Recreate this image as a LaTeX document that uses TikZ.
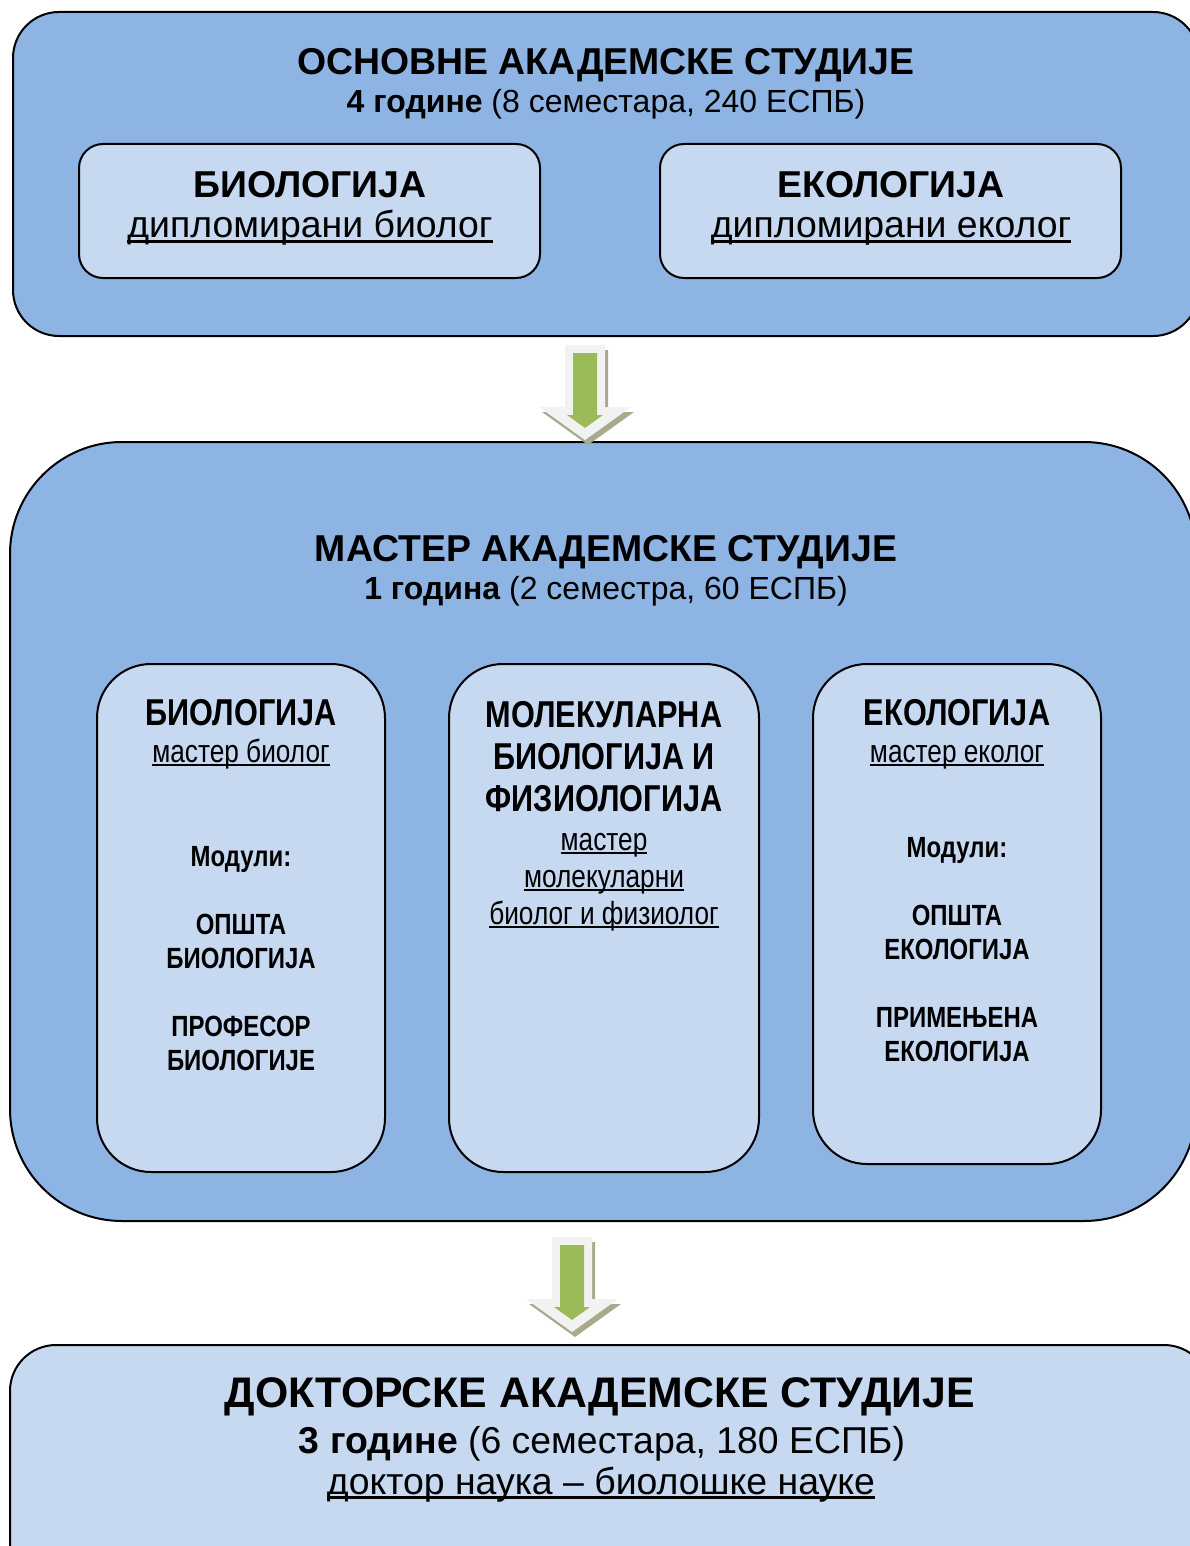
\documentclass[tikz,border=0pt]{standalone}
\usepackage{fontspec}
\setmainfont{Liberation Sans}
\newfontfamily\narrowfont[FakeStretch=0.82]{Liberation Sans}
\usetikzlibrary{positioning}

\definecolor{outerblue}{HTML}{8EB4E3}
\definecolor{innerblue}{HTML}{C6D9F1}
\definecolor{arrowgreen}{HTML}{9BBB59}
\definecolor{arrowpale}{HTML}{F2F2F2}
\definecolor{arrowshade}{HTML}{A8AA8C}

% underline that sits just under the baseline
\newcommand{\ulin}[1]{\setbox0=\hbox{#1}\rlap{\rule[-0.13em]{\wd0}{0.065em}}\box0}

\begin{document}
\begin{tikzpicture}[x=0.5pt, y=-0.5pt, line join=round,
	bigbox/.style={draw=black, line width=1pt, fill=outerblue},
	smallbox/.style={draw=black, line width=1pt, fill=innerblue},
	txt/.style={anchor=base, inner sep=0pt, align=center},
	pics/downarrow/.style={code={
		\fill[arrowshade] (-17,5) -- (23,5) -- (23,67) -- (49,67) -- (3,100) -- (-43,67) -- (-17,67) -- cycle;
		\fill[arrowpale] (-20,0) -- (20,0) -- (20,62) -- (46,62) -- (0,95) -- (-46,62) -- (-20,62) -- cycle;
		\fill[arrowgreen] (-12,8) -- (12,8) -- (12,70) -- (18,70) -- (0,83) -- (-18,70) -- (-12,70) -- cycle;
	}}]
	
	\useasboundingbox (0,0) rectangle (1189,1546);
	
	% basic studies
	\node[bigbox, rounded corners=23pt, minimum width=593pt, minimum height=162pt] (osnovne) at (606,174) {};
	\node[txt, font=\bfseries\fontsize{18.7}{21}\selectfont] (osnTitle) at (606,75) {ОСНОВНЕ АКАДЕМСКЕ СТУДИЈЕ};
	\node[txt, font=\fontsize{16}{18}\selectfont] (osnSub) at (606,113) {\textbf{4 године} (8 семестара, 240 ЕСПБ)};
	
	\node[smallbox, rounded corners=12pt, minimum width=230.5pt, minimum height=67pt] (bioB) at (309.5,211) {};
	\node[txt, font=\bfseries\fontsize{18.7}{21}\selectfont] (bioBTitle) at (310,198) {БИОЛОГИЈА};
	\node[txt, font=\fontsize{18.7}{21}\selectfont] (bioBSub) at (310,238) {\ulin{дипломирани биолог}};
	
	\node[smallbox, rounded corners=12pt, minimum width=230.5pt, minimum height=67pt] (ekoB) at (890.5,211) {};
	\node[txt, font=\bfseries\fontsize{18.7}{21}\selectfont] (ekoBTitle) at (891,198) {ЕКОЛОГИЈА};
	\node[txt, font=\fontsize{18.7}{21}\selectfont] (ekoBSub) at (891,238) {\ulin{дипломирани еколог}};
	
	% master studies
	\node[bigbox, rounded corners=56pt, minimum width=593pt, minimum height=389.5pt] (master) at (603,831.5) {};
	\node[txt, font=\bfseries\fontsize{18.7}{21}\selectfont] (masTitle) at (606,561) {МАСТЕР АКАДЕМСКЕ СТУДИЈЕ};
	\node[txt, font=\fontsize{16}{18}\selectfont] (masSub) at (606,599) {\textbf{1 година} (2 семестра, 60 ЕСПБ)};
	
	% (multi-line texts are placed by the baseline of their last line)
	\node[smallbox, rounded corners=27pt, minimum width=144pt, minimum height=254pt] (bioM) at (241,918) {};
	\node[txt, font=\narrowfont\bfseries\fontsize{18.7}{21}\selectfont] (bioMTitle) at (241,725) {БИОЛОГИЈА};
	\node[txt, font=\narrowfont\fontsize{16}{18.5}\selectfont] (bioMSub) at (241,762) {\ulin{мастер биолог}};
	\node[txt, font=\narrowfont\bfseries\fontsize{14.6}{17}\selectfont] (bioMMod) at (241,1070)
		{Модули:\\[17pt] ОПШТА\\ БИОЛОГИЈА\\[17pt] ПРОФЕСОР\\ БИОЛОГИЈЕ};
	
	\node[smallbox, rounded corners=27pt, minimum width=155pt, minimum height=254pt] (molM) at (604,918) {};
	\node[txt, font=\narrowfont\bfseries\fontsize{18.7}{21}\selectfont] (molMTitle) at (604,811)
		{МОЛЕКУЛАРНА\\ БИОЛОГИЈА И\\ ФИЗИОЛОГИЈА};
	\node[txt, font=\narrowfont\fontsize{16}{18.5}\selectfont] (molMSub) at (604,924)
		{\ulin{мастер}\\ \ulin{молекуларни}\\ \ulin{биолог и физиолог}};
	
	\node[smallbox, rounded corners=27pt, minimum width=144pt, minimum height=250pt] (ekoM) at (957,914) {};
	\node[txt, font=\narrowfont\bfseries\fontsize{18.7}{21}\selectfont] (ekoMTitle) at (957,725) {ЕКОЛОГИЈА};
	\node[txt, font=\narrowfont\fontsize{16}{18.5}\selectfont] (ekoMSub) at (957,762) {\ulin{мастер еколог}};
	\node[txt, font=\narrowfont\bfseries\fontsize{14.6}{17}\selectfont] (ekoMMod) at (957,1061)
		{Модули:\\[17pt] ОПШТА\\ ЕКОЛОГИЈА\\[17pt] ПРИМЕЊЕНА\\ ЕКОЛОГИЈА};
	
	% doctoral studies
	\node[smallbox, rounded corners=23pt, minimum width=600pt, minimum height=150pt] (doktor) at (610,1495) {};
	\node[txt, font=\bfseries\fontsize{21.4}{24}\selectfont] (dokTitle) at (600,1407) {ДОКТОРСКЕ АКАДЕМСКЕ СТУДИЈЕ};
	\node[txt, font=\fontsize{18.7}{21}\selectfont] (dokSub) at (602,1453) {\textbf{3 године} (6 семестара, 180 ЕСПБ)};
	\node[txt, font=\fontsize{18.7}{21}\selectfont] (dokTitle2) at (601,1494) {\ulin{доктор наука -- биолошке науке}};
	
	% block arrows between the levels
	\pic at (585,345) {downarrow};
	\pic at (572,1237) {downarrow};
	
\end{tikzpicture}
\end{document}
